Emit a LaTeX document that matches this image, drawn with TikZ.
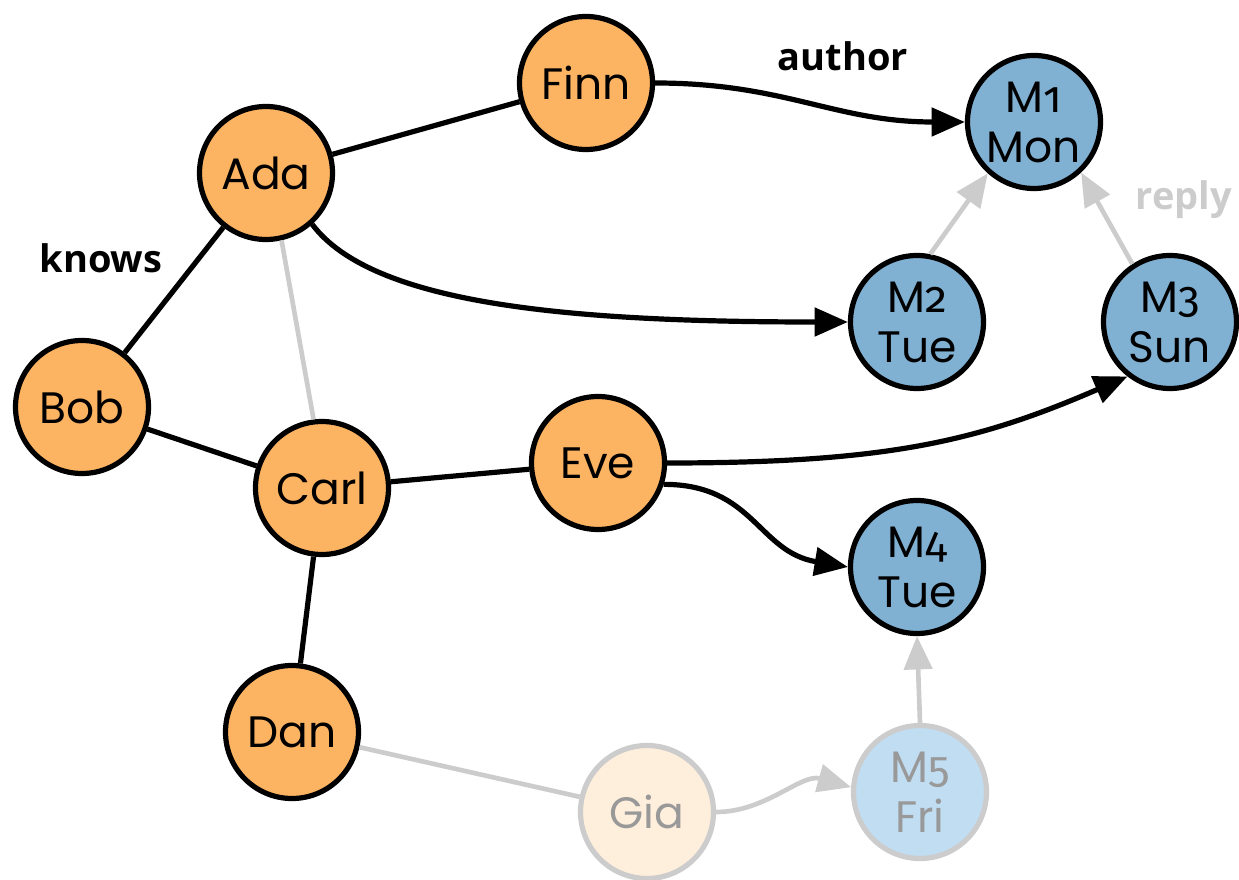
\documentclass[tikz,border=0pt]{standalone}
\usepackage{fontspec}
\setmainfont{Poppins}
\newfontfamily\labelfont{Open Sans}
\newfontfamily\digfont{Fira Sans}[Numbers=OldStyle]
\usetikzlibrary{arrows.meta}
\newcommand\od[1]{{\digfont #1}}
\definecolor{orangeF}{HTML}{FDB462}
\definecolor{blueF}{HTML}{80B1D3}
\definecolor{peachF}{HTML}{FEEEDC}
\definecolor{lblueF}{HTML}{C0DDF2}
\definecolor{grayE}{HTML}{CCCCCC}
\definecolor{grayT}{HTML}{999999}
\tikzset{
  person/.style={circle, draw=black, line width=3.9pt, fill=orangeF,
    minimum size=99.75pt, inner sep=0pt, align=center,
    font=\fontsize{33}{37.5}\selectfont},
  msg/.style={person, fill=blueF},
  fperson/.style={person, draw=grayE, fill=peachF, text=grayT},
  fmsg/.style={person, draw=grayE, fill=lblueF, text=grayT},
  edge/.style={line width=3.9pt, draw=black},
  fedge/.style={line width=3.5pt, draw=grayE},
  arr/.style={-{Triangle[length=25pt,width=21pt]}},
  lbl/.style={font=\labelfont\bfseries\fontsize{28.5}{30}\selectfont, anchor=base, inner sep=0pt}
}
\begin{document}
\begin{tikzpicture}[x=0.75pt,y=-0.75pt]
\useasboundingbox (0,0) rectangle (1239,880);
% nodes
\node[person] (Finn) at (586,83) {Finn};
\node[person] (Ada) at (266,173) {Ada};
\node[msg] (M1) at (1034,122) {M\od{1}\\Mon};
\node[msg] (M2) at (917,322) {M\od{2}\\Tue};
\node[msg] (M3) at (1170,322) {M\od{3}\\Sun};
\node[person] (Bob) at (82,407) {Bob};
\node[person] (Carl) at (322,488) {Carl};
\node[person] (Eve) at (598,463) {Eve};
\node[msg] (M4) at (917,567) {M\od{4}\\Tue};
\node[person] (Dan) at (292,732) {Dan};
\node[fperson] (Gia) at (647,812) {Gia};
\node[fmsg] (M5) at (920,792) {M\od{5}\\Fri};
% labels
\node[lbl] (lauthor) at (843,71) {author};
\node[lbl] (lknows) at (101,273) {knows};
\node[lbl, text=grayE] (lreply) at (1184,210) {reply};
% black undirected edges
\draw[edge] (Ada) -- (Finn);
\draw[edge] (Ada) -- (Bob);
\draw[edge] (Bob) -- (Carl);
\draw[edge] (Carl) -- (Eve);
\draw[edge] (Carl) -- (Dan);
% gray undirected edges
\draw[fedge] (Ada.-77) -- (Carl.97);
\draw[fedge] (Dan) -- (Gia);
% black arrows
\draw[edge, arr] (Finn.east) .. controls +(130,0) and +(-130,0) .. (M1.west);
\draw[edge, arr] (Ada.-48) .. controls +(60,80) and +(-280,0) .. (M2.west);
\draw[edge, arr] (Eve.east) .. controls +(220,0) and +(-150,65) .. (M3.-128);
\draw[edge, arr] (Eve.-18) .. controls +(90,0) and +(-90,-15) .. (M4.west);
% gray arrows
\draw[fedge, arr] (M2.79) -- (M1.-132);
\draw[fedge, arr] (M3.123) -- (M1.-47);
\draw[fedge, arr] (M5.north) -- (M4.south);
\draw[fedge, arr] (Gia.east) .. controls +(50,0) and +(-50,-14) .. (M5.176);
\end{tikzpicture}
\end{document}
